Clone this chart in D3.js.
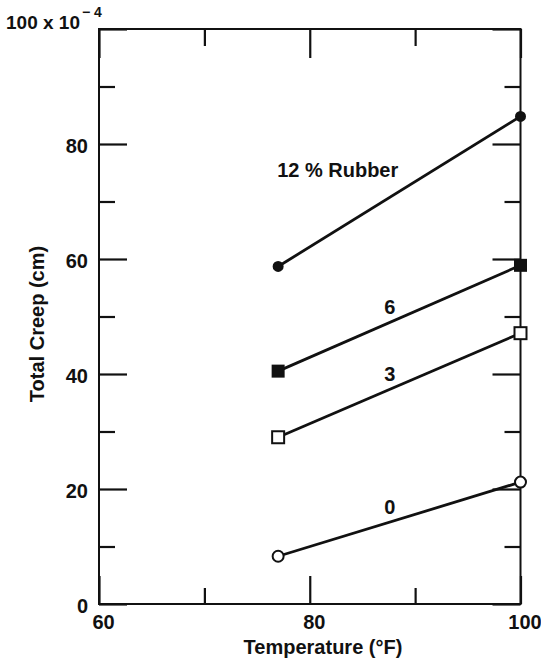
<!DOCTYPE html>
<html>
<head>
<meta charset="utf-8">
<script src="https://cdn.jsdelivr.net/npm/d3@7"></script>
<style>
  body { margin: 0; background: #fff; }
  svg text { font-family: "Liberation Sans", Arial, sans-serif; font-weight: bold; fill: #111; }
</style>
</head>
<body>
<div id="chart"></div>
<script>
// data
const temps = [77, 100];
const rubber12 = [58.7, 84.8];
const rubber6 = [40.5, 58.9];
const rubber3 = [29.0, 47.1];
const rubber0 = [8.3, 21.2];

const xMajor = [60, 80, 100];
const xMinor = [70, 90];
const yMajor = [0, 20, 40, 60, 80, 100];
const yMinor = [10, 30, 50, 70, 90];
const yLabels = [0, 20, 40, 60, 80];

const seriesList = [
  { name: "12", values: rubber12, marker: "circle", fill: "#111", r: 4.5 },
  { name: "6", values: rubber6, marker: "square", fill: "#111", r: 5.5 },
  { name: "3", values: rubber3, marker: "square", fill: "#fff", r: 6 },
  { name: "0", values: rubber0, marker: "circle", fill: "#fff", r: 5.5 }
];

const w = 541, h = 660;
const margin = { top: 29, right: 20.5, bottom: 56, left: 99 };

const svg = d3.select("#chart").append("svg")
  .attr("width", w)
  .attr("height", h);

const xScale = d3.scaleLinear().domain([60, 100]).range([margin.left, w - margin.right]);
const yScale = d3.scaleLinear().domain([0, 100]).range([h - margin.bottom, margin.top]);

// frame
svg.append("rect")
  .attr("x", xScale(60)).attr("y", yScale(100))
  .attr("width", xScale(100) - xScale(60))
  .attr("height", yScale(0) - yScale(100))
  .attr("fill", "none").attr("stroke", "#111").attr("stroke-width", 2);

function tickAxis(axis, tx, ty) {
  const g = svg.append("g")
    .attr("transform", "translate(" + tx + "," + ty + ")")
    .call(axis);
  g.select(".domain").remove();
  g.selectAll(".tick line").attr("stroke", "#111").attr("stroke-width", 2.2);
  return g;
}

// major and minor ticks on all four sides, pointing inward
const yBottom = h - margin.bottom, yTop = margin.top;
const xLeft = margin.left, xRight = w - margin.right;

const xb = tickAxis(d3.axisBottom(xScale).tickValues(xMajor).tickSize(-28).tickPadding(11).tickFormat(d3.format("d")), 0, yBottom);
xb.selectAll(".tick text").attr("font-size", 20).attr("dx", 4);
tickAxis(d3.axisBottom(xScale).tickValues(xMinor).tickSize(-16).tickFormat(""), 0, yBottom);
tickAxis(d3.axisTop(xScale).tickValues(xMajor).tickSize(-29).tickFormat(""), 0, yTop);
tickAxis(d3.axisTop(xScale).tickValues(xMinor).tickSize(-17).tickFormat(""), 0, yTop);

const yl = tickAxis(d3.axisLeft(yScale).tickValues(yMajor).tickSize(-28).tickPadding(11)
  .tickFormat(d => yLabels.includes(d) ? d : ""), xLeft, 0);
yl.selectAll(".tick text").attr("font-size", 20).attr("dy", "0.42em");
tickAxis(d3.axisLeft(yScale).tickValues(yMinor).tickSize(-16).tickFormat(""), xLeft, 0);
tickAxis(d3.axisRight(yScale).tickValues(yMajor).tickSize(-28).tickFormat(""), xRight, 0);
tickAxis(d3.axisRight(yScale).tickValues(yMinor).tickSize(-16).tickFormat(""), xRight, 0);

// top y label with exponent
const expo = svg.append("text")
  .attr("x", 6).attr("y", 29)
  .attr("font-size", 19);
expo.append("tspan").text("100 x 10");
expo.append("tspan").attr("font-size", 14).attr("dx", 2).attr("dy", -12).text("\u2212 4");

// axis titles
svg.append("text")
  .attr("x", 323).attr("y", 654)
  .attr("text-anchor", "middle")
  .attr("font-size", 20)
  .text("Temperature (\u00B0F)");

svg.append("text")
  .attr("transform", "translate(44," + 324 + ") rotate(-90)")
  .attr("text-anchor", "middle")
  .attr("font-size", 20)
  .text("Total Creep (cm)");

// lines and markers
const line = d3.line()
  .x((d, i) => xScale(temps[i]))
  .y(d => yScale(d));

seriesList.forEach(s => {
  svg.append("path")
    .datum(s.values)
    .attr("d", line)
    .attr("fill", "none")
    .attr("stroke", "#111")
    .attr("stroke-width", 2.8);

  s.values.forEach((v, i) => {
    const cx = xScale(temps[i]), cy = yScale(v);
    if (s.marker === "circle") {
      svg.append("circle")
        .attr("cx", cx).attr("cy", cy).attr("r", s.r)
        .attr("fill", s.fill).attr("stroke", "#111").attr("stroke-width", 2);
    } else {
      svg.append("rect")
        .attr("x", cx - s.r).attr("y", cy - s.r)
        .attr("width", 2 * s.r).attr("height", 2 * s.r)
        .attr("fill", s.fill).attr("stroke", "#111").attr("stroke-width", 2);
    }
  });
});

// series labels, set just above each line near its middle
const midT = 87.6;
seriesList.slice(1).forEach(s => {
  const v = s.values[0] + (s.values[1] - s.values[0]) * (midT - temps[0]) / (temps[1] - temps[0]);
  svg.append("text")
    .attr("x", xScale(midT)).attr("y", yScale(v) - 8)
    .attr("text-anchor", "middle")
    .attr("font-size", 20)
    .text(s.name);
});

svg.append("text")
  .attr("x", xScale(temps[0]) - 1).attr("y", yScale(74.3))
  .attr("font-size", 20)
  .text("12 % Rubber");
</script>
</body>
</html>
